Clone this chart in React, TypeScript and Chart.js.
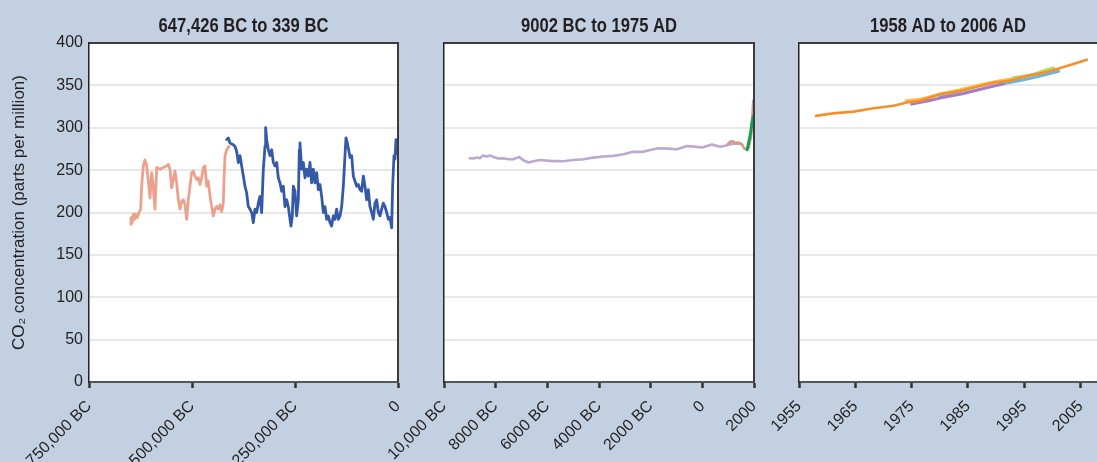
import React, { useEffect, useRef } from "react";
import { Chart, registerables } from "chart.js";

Chart.register(...registerables);

// ---------- Panel 1: 647,426 BC to 339 BC ----------
const domeCYear = [
  -647426, -648000, -645600, -642400, -640000, -636700, -632700, -628600, -624600, -622200,
  -618100, -614100, -610000, -606000, -601900, -597900, -593900, -589800, -585800, -577700,
  -569600, -561500, -557400, -553400, -549400, -545300, -541300, -537200, -533200, -529100,
  -525100, -521000, -517000, -512900, -508900, -504900, -500800, -496800, -492700, -488700,
  -484600, -480600, -476500, -472500, -468500, -464400, -460400, -456300, -452300, -448200,
  -444200, -440100, -436100, -432100, -428000, -424000, -422300, -419900, -415900, -410200,
];
const domeCCO2 = [
  186, 194, 188, 198, 192, 198, 194, 200, 204, 231,
  255, 262, 255, 237, 217, 247, 229, 204, 253, 251,
  253, 255, 257, 251, 229, 239, 249, 235, 215, 204,
  213, 215, 209, 192, 215, 231, 247, 249, 243, 239,
  241, 233, 241, 253, 255, 231, 237, 219, 207, 196,
  204, 207, 204, 209, 201, 211, 239, 267, 274, 278,
];
const vostokYear = [
  -415900, -411800, -407800, -399700, -395600, -391600, -387500, -383500, -379500, -375400,
  -371400, -367300, -363300, -359200, -355200, -351100, -347100, -343100, -339000, -335000,
  -330900, -326900, -322800, -321200, -318800, -314700, -310700, -306600, -302600, -298600,
  -294500, -290500, -286400, -282400, -278300, -274300, -270200, -266200, -262100, -259700,
  -256500, -254100, -250000, -246000, -241900, -239500, -237900, -233800, -229800, -225700,
  -221700, -217600, -213600, -209600, -205500, -201500, -197400, -193400, -189300, -185300,
  -181200, -177200, -173200, -169100, -165100, -161000, -157000, -152900, -148900, -144800,
  -140800, -136700, -132700, -128700, -126200, -123000, -119800, -116500, -112500, -108400,
  -104400, -100300, -96300, -92300, -88200, -84200, -80100, -76100, -72000, -68000,
  -63900, -59900, -55800, -51800, -47800, -43700, -39700, -35600, -31600, -27500,
  -23500, -19400, -15400, -13000, -9700, -7300, -4900, -1700, -339,
];
const vostokCO2 = [
  286, 288, 282, 280, 278, 272, 259, 267, 255, 243,
  231, 223, 207, 204, 200, 188, 204, 200, 211, 219,
  200, 251, 278, 300, 286, 274, 267, 274, 259, 255,
  259, 241, 235, 225, 231, 207, 215, 207, 192, 184,
  196, 231, 225, 196, 215, 274, 282, 251, 259, 241,
  251, 243, 259, 235, 251, 235, 247, 227, 233, 219,
  200, 207, 192, 196, 188, 184, 196, 192, 204, 192,
  196, 207, 231, 267, 288, 282, 274, 265, 267, 243,
  237, 231, 233, 227, 225, 243, 231, 215, 227, 207,
  200, 192, 211, 215, 200, 196, 204, 211, 207, 200,
  192, 194, 182, 231, 267, 263, 286, 270, 280,
];
const p1TickValues = [-750000, -500000, -250000, 0];
const p1TickLabels = ["750,000 BC", "500,000 BC", "250,000 BC", "0"];

// ---------- Panel 2: 9002 BC to 1975 AD ----------
const holoceneYear = [
  -9002, -8863, -8734, -8605, -8501, -8346, -8217, -8088, -7894, -7700,
  -7506, -7313, -7093, -6925, -6731, -6537, -6279, -5891, -5375, -4987,
  -4599, -4212, -3824, -3437, -3049, -2726, -2339, -2016, -1693, -1305,
  -982, -594, -336, -12, 375, 698, 956, 1214, 1473, 1537,
];
const holoceneCO2 = [
  264, 263.7, 264.8, 264, 267.2, 266, 267.2, 265.6, 263.7, 264,
  262.9, 262.9, 265.6, 261.7, 259, 260.5, 262, 260.9, 260.5, 262,
  262.9, 264.8, 266, 266.8, 268.8, 271.5, 271.5, 273.8, 275.8, 275.4,
  274.6, 278.5, 277.7, 276.6, 280.1, 277.7, 279.3, 281.3, 281.6, 280.5,
];
const lawDomeYear = [982, 1085, 1189, 1279, 1408, 1537, 1628, 1706, 1796, 1886, 1938, 1975];
const lawDomeCO2 = [280.5, 283.6, 284, 282, 282.4, 280, 275.4, 274.6, 276.6, 290, 313.7, 332];
const sipleYear = [1736, 1801, 1865, 1917, 1968];
const sipleCO2 = [274, 283.6, 293.4, 305.2, 313];
const p2TickValues = [-10000, -8000, -6000, -4000, -2000, 0, 2000];
const p2TickLabels = ["10,000 BC", "8000 BC", "6000 BC", "4000 BC", "2000 BC", "0", "2000"];

// ---------- Panel 3: 1958 AD to 2006 AD ----------
const maunaLoaYear = [1958, 1961, 1964.7, 1968.2, 1971.8, 1974.1, 1976.5, 1980.1, 1983.6, 1987.2, 1989.5, 1992.5, 1995.4, 1999, 2001.4, 2003.7, 2006.1];
const maunaLoaCO2 = [314, 317, 319, 323, 326, 329.8, 331.8, 339.5, 343.4, 349.2, 353.1, 355.8, 360.9, 365.9, 370.5, 375.2, 380.2];
const stationAYear = [1974, 1976.5, 1980, 1983.6, 1987.6, 1990.7, 1993];
const stationACO2 = [332, 333.5, 340, 345, 351.5, 355.4, 357.7];
const stationBYear = [1975, 1978, 1980, 1984, 1988.3, 1991.3];
const stationBCO2 = [327.9, 331.8, 335, 340, 347.3, 352];
const stationCYear = [1980, 1983.6, 1987.2, 1990.7, 1994.3, 1997.8, 2001.1];
const stationCCO2 = [336.4, 340.3, 345.3, 351.2, 355.8, 360.9, 366.7];
const stationDYear = [1993, 1996.6, 1999, 2000.2];
const stationDCO2 = [358.9, 362.8, 368.6, 370.5];
const stationEYear = [1997.8, 2000.8];
const stationECO2 = [363.6, 367.4];
const p3TickValues = [1955, 1965, 1975, 1985, 1995, 2005];
const p3TickLabels = ["1955", "1965", "1975", "1985", "1995", "2005"];

const yTickValues = [0, 50, 100, 150, 200, 250, 300, 350, 400];

const BG = "#c3d0e1";
const TEXT = "#231f20";
const SANS = "'Liberation Sans', Arial, Helvetica, sans-serif";
const TITLE_FONT = "bold 20px 'Liberation Sans', Arial, Helvetica, sans-serif";
const TITLE_CONDENSE = 0.83;

const zip = (xs: number[], ys: number[]) => xs.map((x, i) => ({ x, y: ys[i] }));

type Series = { xs: number[]; ys: number[]; color: string; width: number };

type PanelSpec = {
  title: string;
  series: Series[];
  xMin: number;
  xMax: number;
  tickValues: number[];
  tickLabels: string[];
  showY: boolean;
  padding: { top: number; right: number; bottom: number; left: number };
  drawRight: boolean;
};

function makeConfig(spec: PanelSpec): any {
  const framePlugin = {
    id: "frame",
    beforeDraw(chart: any) {
      const { ctx, chartArea } = chart;
      ctx.save();
      ctx.fillStyle = "#ffffff";
      ctx.fillRect(chartArea.left, chartArea.top, chartArea.right - chartArea.left, chartArea.bottom - chartArea.top);
      ctx.restore();
    },
    afterDraw(chart: any) {
      const { ctx, chartArea } = chart;
      ctx.save();
      ctx.strokeStyle = "#3c3c3c";
      ctx.lineWidth = 2;
      ctx.beginPath();
      ctx.moveTo(chartArea.left, chartArea.top);
      ctx.lineTo(chartArea.right, chartArea.top);
      if (spec.drawRight) ctx.lineTo(chartArea.right, chartArea.bottom);
      ctx.stroke();
      ctx.translate((chartArea.left + chartArea.right) / 2, 31.5);
      ctx.scale(TITLE_CONDENSE, 1);
      ctx.font = TITLE_FONT;
      ctx.fillStyle = TEXT;
      ctx.textAlign = "center";
      ctx.textBaseline = "alphabetic";
      ctx.fillText(spec.title, 0, 0);
      ctx.restore();
    },
  };

  return {
    type: "line",
    data: {
      datasets: spec.series.map((s) => ({
        data: zip(s.xs, s.ys),
        borderColor: s.color,
        backgroundColor: s.color,
        borderWidth: s.width,
        pointRadius: 0,
        pointHoverRadius: 0,
        tension: 0,
        fill: false,
        borderJoinStyle: "round",
        borderCapStyle: "round",
      })),
    },
    options: {
      responsive: false,
      animation: false,
      events: [],
      layout: { padding: spec.padding },
      plugins: { legend: { display: false }, title: { display: false }, tooltip: { enabled: false } },
      scales: {
        x: {
          type: "linear",
          min: spec.xMin,
          max: spec.xMax,
          afterBuildTicks: (scale: any) => {
            scale.ticks = spec.tickValues.map((v) => ({ value: v }));
          },
          afterFit: (scale: any) => {
            scale.height = 80;
            scale.paddingLeft = 0;
            scale.paddingRight = 0;
          },
          grid: {
            drawOnChartArea: false,
            drawTicks: true,
            tickLength: 6,
            tickWidth: 2.5,
            tickColor: "#333333",
          },
          border: { display: true, color: "#555555", width: 2 },
          ticks: {
            autoSkip: false,
            maxRotation: 45,
            minRotation: 45,
            padding: 9,
            color: TEXT,
            font: { family: SANS, size: 16 },
            callback: (_v: any, i: number) => spec.tickLabels[i],
          },
        },
        y: {
          type: "linear",
          min: 0,
          max: 400,
          afterBuildTicks: (scale: any) => {
            scale.ticks = yTickValues.map((v) => ({ value: v }));
          },
          afterFit: (scale: any) => {
            scale.width = spec.showY ? 89 : 0;
            if (!spec.showY) {
              scale.paddingTop = 0;
              scale.paddingBottom = 0;
            }
          },
          grid: { drawTicks: false, color: "#e8e8e8", lineWidth: 2 },
          border: { display: true, color: "#222222", width: 1.5 },
          ticks: {
            display: spec.showY,
            padding: 6,
            color: TEXT,
            font: { family: SANS, size: 16 },
          },
          title: {
            display: spec.showY,
            text: "CO₂ concentration (parts per million)",
            color: TEXT,
            font: { family: SANS, size: 17 },
            padding: { top: 9, bottom: 0 },
          },
        },
      },
    },
    plugins: [framePlugin],
  };
}

const panel1: PanelSpec = {
  title: "647,426 BC to 339 BC",
  series: [
    { xs: vostokYear, ys: vostokCO2, color: "#3459a8", width: 2.8 },
    { xs: domeCYear, ys: domeCCO2, color: "#eda18d", width: 2.8 },
  ],
  xMin: -750000,
  xMax: 0,
  tickValues: p1TickValues,
  tickLabels: p1TickLabels,
  showY: true,
  padding: { top: 43, right: 2, bottom: 0, left: 0 },
  drawRight: true,
};

const panel2: PanelSpec = {
  title: "9002 BC to 1975 AD",
  series: [
    { xs: sipleYear, ys: sipleCO2, color: "#15a04c", width: 3 },
    { xs: lawDomeYear, ys: lawDomeCO2, color: "#d39a85", width: 2.6 },
    { xs: holoceneYear, ys: holoceneCO2, color: "#bba9cf", width: 2.6 },
  ],
  xMin: -10000,
  xMax: 2000,
  tickValues: p2TickValues,
  tickLabels: p2TickLabels,
  showY: false,
  padding: { top: 43, right: 6, bottom: 0, left: 74 },
  drawRight: true,
};

const panel3: PanelSpec = {
  title: "1958 AD to 2006 AD",
  series: [
    { xs: maunaLoaYear, ys: maunaLoaCO2, color: "#f3902c", width: 2.6 },
    { xs: stationAYear, ys: stationACO2, color: "#fbc04a", width: 3 },
    { xs: stationBYear, ys: stationBCO2, color: "#a77bc6", width: 3 },
    { xs: stationCYear, ys: stationCCO2, color: "#6cb6dc", width: 3 },
    { xs: stationDYear, ys: stationDCO2, color: "#b9d56b", width: 3 },
    { xs: stationEYear, ys: stationECO2, color: "#f2c9c1", width: 3 },
  ],
  xMin: 1955,
  xMax: 2007.9,
  tickValues: p3TickValues,
  tickLabels: p3TickLabels,
  showY: false,
  padding: { top: 43, right: 0, bottom: 0, left: 69 },
  drawRight: false,
};

function Panel({ spec, left, width }: { spec: PanelSpec; left: number; width: number }) {
  const ref = useRef<HTMLCanvasElement | null>(null);
  useEffect(() => {
    if (!ref.current) return;
    const chart = new Chart(ref.current, makeConfig(spec));
    return () => chart.destroy();
  }, [spec]);
  return (
    <canvas
      ref={ref}
      width={width}
      height={462}
      style={{ position: "absolute", left, top: 0, width, height: 462 }}
    />
  );
}

export default function App() {
  return (
    <div
      style={{
        position: "fixed",
        left: 0,
        top: 0,
        width: 1097,
        height: 462,
        background: BG,
        overflow: "hidden",
      }}
    >
      <Panel spec={panel1} left={0} width={400} />
      <Panel spec={panel2} left={370} width={390} />
      <Panel spec={panel3} left={730} width={367} />
    </div>
  );
}
